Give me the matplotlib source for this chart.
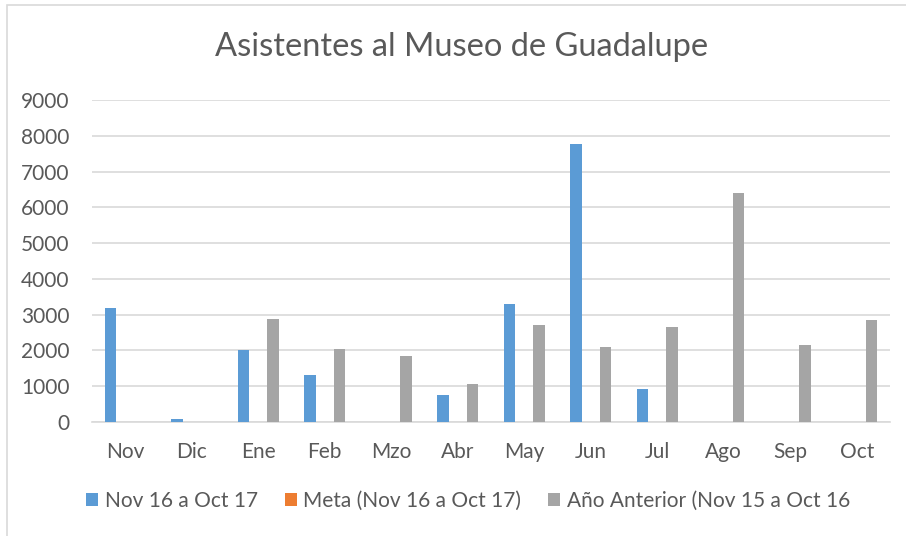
import numpy as np
import matplotlib.pyplot as plt
from matplotlib.patches import Rectangle

plt.rcParams['font.family'] = ['Lato', 'DejaVu Sans']

meses = ["Nov", "Dic", "Ene", "Feb", "Mzo", "Abr", "May", "Jun", "Jul", "Ago", "Sep", "Oct"]
actual = [3180, 90, 2000, 1300, 0, 760, 3310, 7780, 910, 0, 0, 0]
meta = [0, 0, 0, 0, 0, 0, 0, 0, 0, 0, 0, 0]
anterior = [0, 0, 2880, 2030, 1840, 1050, 2720, 2090, 2660, 6390, 2140, 2840]
nombres = ["Nov 16 a Oct 17", "Meta (Nov 16 a Oct 17)", "Año Anterior (Nov 15 a Oct 16"]

texto = "#595959"
W, H = 906, 536
fig = plt.figure(figsize=(W / 100, H / 100), dpi=100)
# borde del area del grafico (se sale por la derecha y por abajo)
fig.patches.append(Rectangle((7 / W, -0.05), 1, 1.05 - 5 / H, transform=fig.transFigure,
                             fill=False, edgecolor="#d9d9d9", lw=1.2))

ax = fig.add_axes([92 / W, 1 - 422 / H, (890 - 92) / W, (422 - 100) / H])
x = np.arange(len(meses))
w = 0.176
ax.bar(x - 0.22, actual, w, color="#5b9bd5", label=nombres[0], zorder=3)
ax.bar(x, meta, w, color="#ed7d31", label=nombres[1], zorder=3)
ax.bar(x + 0.22, anterior, w, color="#a5a5a5", label=nombres[2], zorder=3)

ax.set_xlim(-0.5, 11.5)
ax.set_ylim(0, 9000)
ax.set_yticks(range(0, 9001, 1000))
ax.set_xticks(x)
ax.set_xticklabels(meses)
ax.grid(axis="y", color="#d9d9d9", lw=1.2, zorder=0)
for s in ["top", "right", "left"]:
    ax.spines[s].set_visible(False)
ax.spines["bottom"].set_color("#d9d9d9")
ax.spines["bottom"].set_linewidth(1.2)
ax.tick_params(length=0, colors=texto, labelsize=15)
ax.tick_params(axis="x", pad=14.5)
ax.tick_params(axis="y", pad=16)

fig.text(462 / W, 1 - 47 / H, "Asistentes al Museo de Guadalupe", ha="center", va="center",
         fontsize=23.5, color=texto)

leg = fig.legend(loc="center", bbox_to_anchor=(468 / W, 1 - 501 / H), ncol=3, frameon=False,
                 fontsize=15, handlelength=0.58, handleheight=0.58, handletextpad=0.3,
                 columnspacing=1.3)
for t in leg.get_texts():
    t.set_color(texto)

fig.savefig("out.png", dpi=100)
